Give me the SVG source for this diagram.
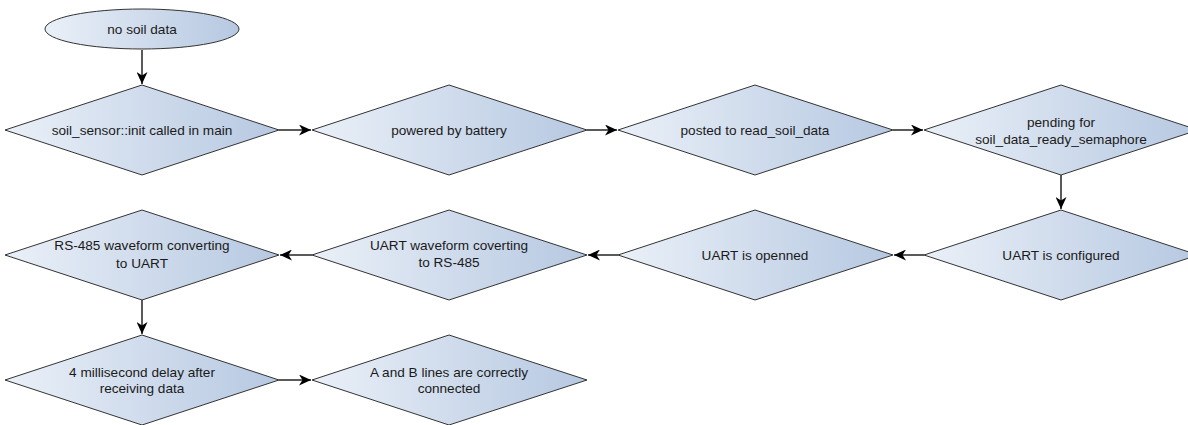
<svg xmlns="http://www.w3.org/2000/svg" width="1188" height="425" viewBox="0 0 1188 425">
<defs>
<linearGradient id="g" x1="0" y1="0" x2="1" y2="0">
<stop offset="0" stop-color="#eaf0f8"/>
<stop offset="1" stop-color="#b6c8e1"/>
</linearGradient>
<marker id="ah" markerWidth="13" markerHeight="11" refX="12" refY="5.5" orient="auto" markerUnits="userSpaceOnUse">
<path d="M0,0 L12,5.5 L0,11 L3.5,5.5 Z" fill="#000"/>
</marker>
<style>
.s{fill:url(#g);stroke:#333;stroke-width:1}
.t{font-family:"Liberation Sans",Arial,sans-serif;font-size:13.6px;fill:#1a1a1a;text-anchor:middle}
.c{stroke:#000;stroke-width:1.3;fill:none;marker-end:url(#ah)}
</style>
</defs>
<rect width="1188" height="425" fill="#fff"/>
<g id="connectors">
<line class="c" x1="142" y1="50" x2="142" y2="84"/>
<line class="c" x1="279" y1="130" x2="311" y2="130"/>
<line class="c" x1="587" y1="130" x2="617" y2="130"/>
<line class="c" x1="893" y1="130" x2="923" y2="130"/>
<line class="c" x1="1061" y1="175" x2="1061" y2="209"/>
<line class="c" x1="924" y1="255" x2="894" y2="255"/>
<line class="c" x1="618" y1="255" x2="588" y2="255"/>
<line class="c" x1="312" y1="255" x2="280" y2="255"/>
<line class="c" x1="142" y1="300" x2="142" y2="334"/>
<line class="c" x1="279" y1="380" x2="311" y2="380"/>
</g>
<g id="n0"><ellipse class="s" cx="142" cy="29" rx="97" ry="20"/><text class="t" x="142" y="34">no soil data</text></g>
<g id="n1"><polygon class="s" points="5,130 142,85 279,130 142,175"/><text class="t" x="142" y="135">soil_sensor::init called in main</text></g>
<g id="n2"><polygon class="s" points="312,130 449,85 587,130 449,175"/><text class="t" x="449" y="135">powered by battery</text></g>
<g id="n3"><polygon class="s" points="618,130 755,85 893,130 755,175"/><text class="t" x="755" y="135">posted to read_soil_data</text></g>
<g id="n4"><polygon class="s" points="924,130 1061,85 1198,130 1061,175"/><text class="t" x="1061" y="127">pending for</text><text class="t" x="1061" y="144">soil_data_ready_semaphore</text></g>
<g id="n5"><polygon class="s" points="924,255 1061,210 1198,255 1061,300"/><text class="t" x="1061" y="260">UART is configured</text></g>
<g id="n6"><polygon class="s" points="618,255 755,210 893,255 755,300"/><text class="t" x="755" y="260">UART is openned</text></g>
<g id="n7"><polygon class="s" points="312,255 449,210 587,255 449,300"/><text class="t" x="449" y="250">UART waveform coverting</text><text class="t" x="449" y="267">to RS-485</text></g>
<g id="n8"><polygon class="s" points="5,255 142,210 279,255 142,300"/><text class="t" x="142" y="250">RS-485 waveform converting</text><text class="t" x="142" y="268">to UART</text></g>
<g id="n9"><polygon class="s" points="5,380 142,335 279,380 142,425"/><text class="t" x="142" y="377">4 millisecond delay after</text><text class="t" x="142" y="393">receiving data</text></g>
<g id="n10"><polygon class="s" points="312,380 449,335 587,380 449,425"/><text class="t" x="449" y="377">A and B lines are correctly</text><text class="t" x="449" y="393">connected</text></g>
</svg>
